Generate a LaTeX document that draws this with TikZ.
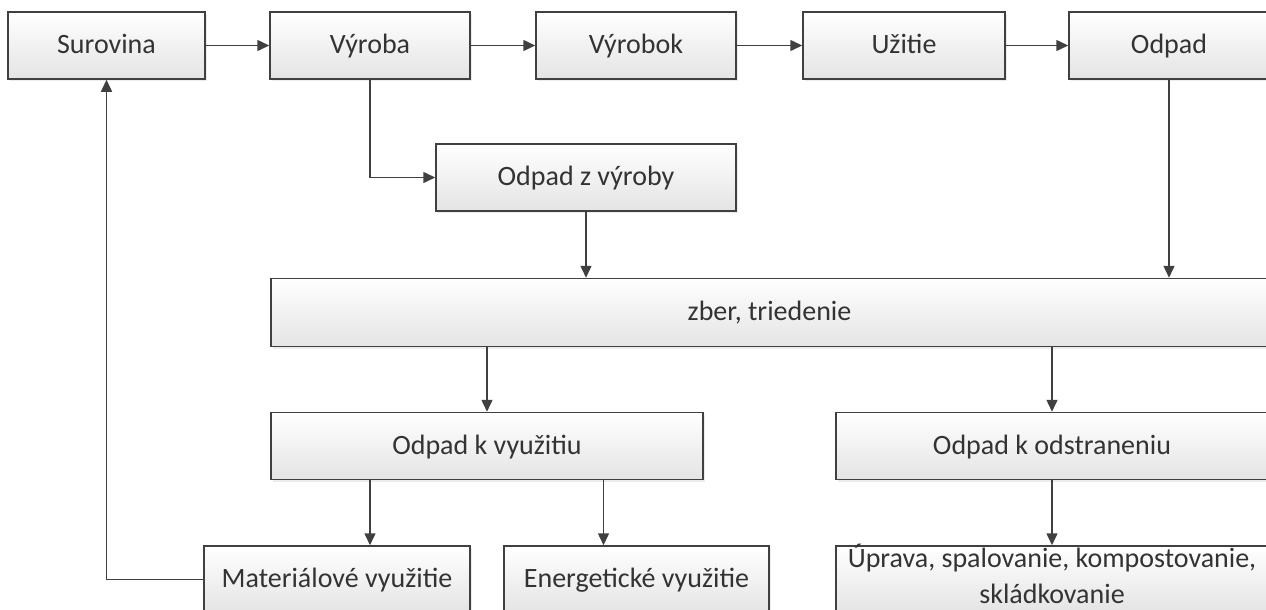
\documentclass[tikz,border=0pt]{standalone}
\usepackage{fontspec}
\setmainfont{Carlito}
\usetikzlibrary{arrows.meta,shadows}
\definecolor{edgegray}{HTML}{404040}
\definecolor{textgray}{HTML}{333333}
\definecolor{fillgray}{HTML}{E4E4E4}

\begin{document}
\begin{tikzpicture}[x=1pt,y=-1pt,boxbase/.style={draw=edgegray,line width=1.5pt,top color=white,bottom color=fillgray,text=textgray,minimum height=67pt,inner sep=0pt,align=center,font=\fontsize{28}{36}\selectfont,drop shadow={opacity=0.15,shadow xshift=2pt,shadow yshift=-2pt}},box/.style={boxbase,text height=22pt,text depth=6pt},arr/.style={draw=edgegray,line width=1.5pt,-{Triangle[length=12pt,width=11pt]}}]
\clip (0,0) rectangle (1266,610);
\node[box,minimum width=197pt] (sur) at (106.5,45.5) {Surovina};
\node[box,minimum width=200pt] (vyr) at (370,45.5) {Výroba};
\node[box,minimum width=200pt] (vyrk) at (636,45.5) {Výrobok};
\node[box,minimum width=202pt] (uz) at (904,45.5) {Užitie};
\node[box,minimum width=200pt] (odp) at (1169,45.5) {Odpad};
\node[box,minimum width=300pt] (odpvyr) at (586,177.5) {Odpad z výroby};
\node[box,minimum width=997pt,minimum height=68pt] (zber) at (769.5,312.5) {zber, triedenie};
\node[box,minimum width=432pt] (vyuz) at (487,446) {Odpad k využitiu};
\node[box,minimum width=432pt] (odstr) at (1052,446) {Odpad k odstraneniu};
\node[box,minimum width=266pt] (mat) at (337,579.5) {Materiálové využitie};
\node[box,minimum width=265pt] (ener) at (636.5,579.5) {Energetické využitie};
\node[boxbase,minimum width=432pt] (upr) at (1052,579.5) {};
\node[text=textgray,align=center,inner sep=0pt,font=\fontsize{28}{36}\selectfont] (uprtext) at (1052,574) {Úprava, spalovanie, kompostovanie,\\skládkovanie};
\draw[arr] (sur) -- (vyr);
\draw[arr] (vyr) -- (vyrk);
\draw[arr] (vyrk) -- (uz);
\draw[arr] (uz) -- (odp);
\draw[arr] (vyr) |- (odpvyr);
\draw[arr] (odpvyr) -- (odpvyr |- zber.north);
\draw[arr] (odp) -- (odp |- zber.north);
\draw[arr] (vyuz |- zber.south) -- (vyuz);
\draw[arr] (odstr |- zber.south) -- (odstr);
\draw[arr] ([xshift=33pt]mat.north |- vyuz.south) -- ([xshift=33pt]mat.north);
\draw[arr] ([xshift=-33pt]ener.north |- vyuz.south) -- ([xshift=-33pt]ener.north);
\draw[arr] (odstr) -- (upr);
\draw[arr] (mat) -| (sur);
\end{tikzpicture}
\end{document}
